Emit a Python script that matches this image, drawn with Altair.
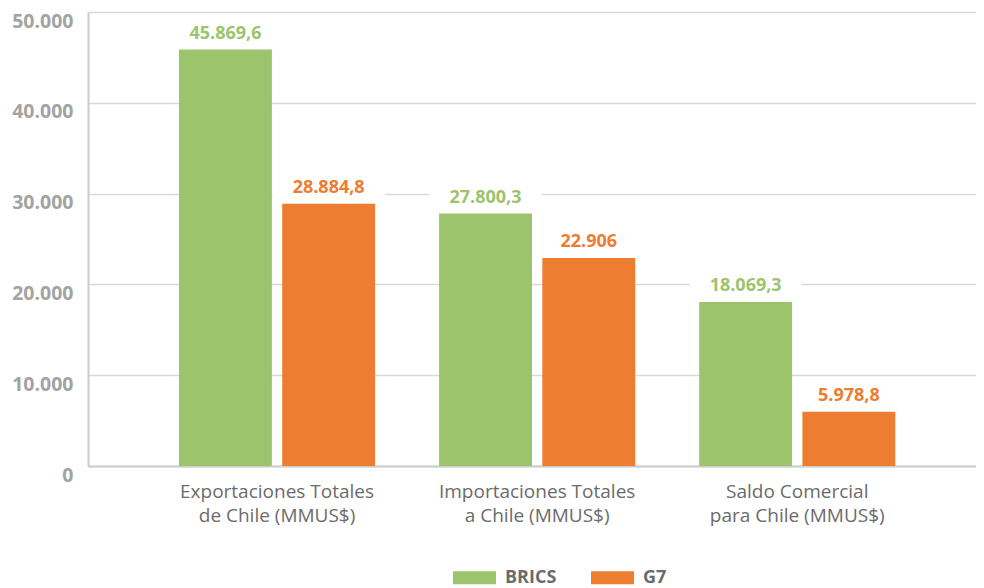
import altair as alt
import pandas as pd

categories = [
    "Exportaciones Totales\nde Chile (MMUS$)",
    "Importaciones Totales\na Chile (MMUS$)",
    "Saldo Comercial\npara Chile (MMUS$)",
]
series = ["BRICS", "G7"]
brics = [45869.6, 27800.3, 18069.3]
g7 = [28884.8, 22906.0, 5978.8]
y_ticks = [0, 10000, 20000, 30000, 40000, 50000]
colors = ["#9CC46C", "#ED7D31"]

rows = []
for i, c in enumerate(categories):
    rows.append({"cat": c, "serie": series[0], "valor": brics[i]})
    rows.append({"cat": c, "serie": series[1], "valor": g7[i]})
df = pd.DataFrame(rows)

FONT = "Open Sans"

x_enc = alt.X(
    "cat:N",
    sort=categories,
    title=None,
    scale=alt.Scale(paddingInner=0.246, paddingOuter=0.33, align=0.53),
    axis=alt.Axis(
        labelExpr="split(datum.label, '\\n')",
        labelAngle=0,
        labelPadding=16,
        labelLimit=0,
        labelFont=FONT,
        labelFontSize=19,
        labelColor="#6b6b6b",
        labelLineHeight=24.5,
        labelBaseline="top",
        ticks=False,
        grid=False,
        domainColor="#cccccc",
        domainWidth=2,
    ),
)
xoff_enc = alt.XOffset("serie:N", sort=series, scale=alt.Scale(paddingInner=0.1, paddingOuter=0))
y_enc = alt.Y(
    "valor:Q",
    scale=alt.Scale(domain=[0, 50000], nice=False),
    title=None,
    axis=alt.Axis(
        values=y_ticks,
        format=",d",
        labelFont=FONT,
        labelFontWeight="bold",
        labelFontSize=19.5,
        labelColor="#a3a3a3",
        labelOffset=9,
        labelPadding=15,
        ticks=False,
        domainColor="#cccccc",
        domainWidth=2,
        gridColor="#d9d9d9",
        gridWidth=1.5,
    ),
)

base = alt.Chart(df).encode(x=x_enc, xOffset=xoff_enc, y=y_enc)

boxes = base.mark_tick(thickness=22, size=112, yOffset=-16, opacity=1).encode(
    color=alt.value("white")
)

bars = base.mark_bar().encode(
    color=alt.Color(
        "serie:N",
        scale=alt.Scale(domain=series, range=colors),
        legend=alt.Legend(
            title=None,
            orient="none",
            legendX=365,
            legendY=544,
            direction="horizontal",
            symbolType="M-1,-0.3H1V0.3H-1Z",
            symbolSize=1849,
            symbolStrokeWidth=0,
            labelFont=FONT,
            labelFontWeight="bold",
            labelFontSize=18,
            labelColor="#6b6b6b",
            labelOffset=9,
            columnPadding=34,
        ),
    )
)

labels = base.mark_text(
    font=FONT, fontWeight="bold", fontSize=18, baseline="middle", dy=-16
).encode(
    text=alt.Text("valor:Q", format=",.1~f"),
    color=alt.Color("serie:N", scale=alt.Scale(domain=series, range=colors)),
)

chart = (
    alt.layer(boxes, bars, labels)
    .properties(
        width=888,
        height=454,
        autosize="none",
        padding={"left": 80, "top": 4, "right": 0, "bottom": 124},
    )
    .configure(
        locale={"number": {"decimal": ",", "thousands": ".", "grouping": [3], "currency": ["$", ""]}}
    )
    .configure_view(stroke=None)
)

chart.save("out.html", embed_options={"renderer": "svg", "actions": False})
